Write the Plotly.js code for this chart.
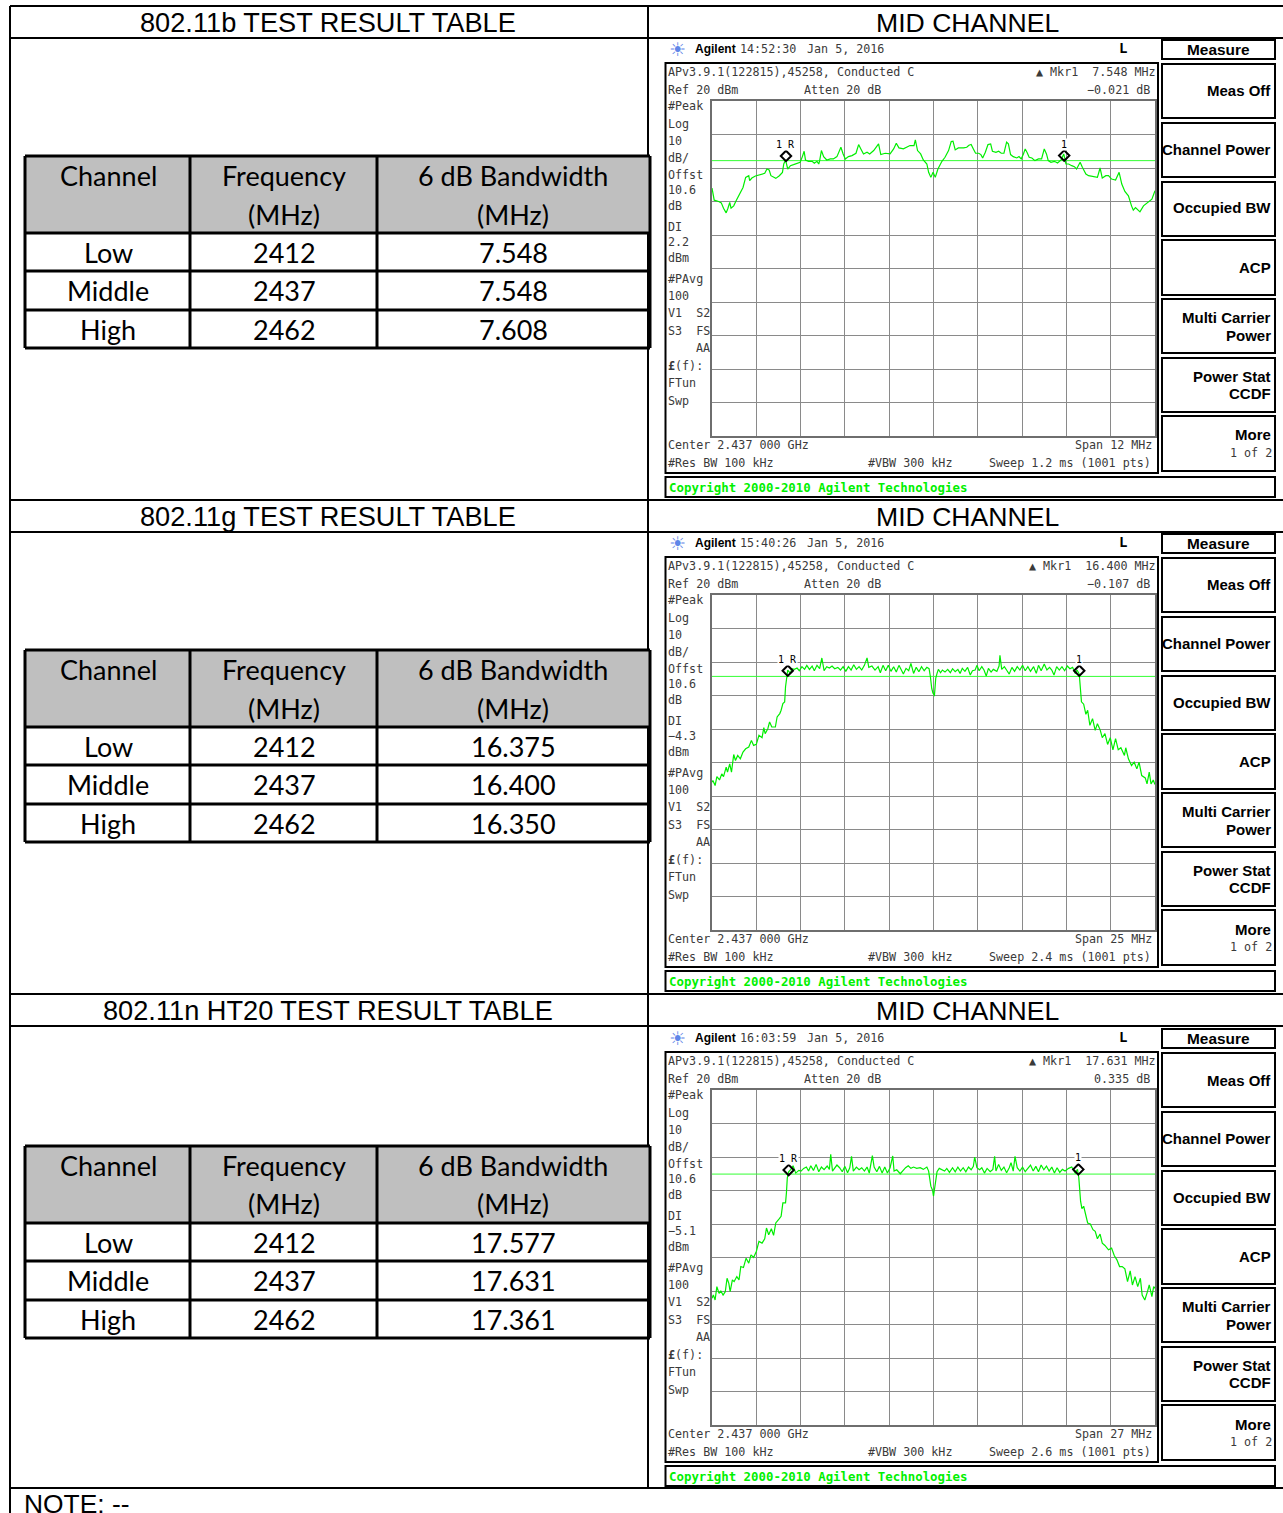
<!DOCTYPE html>
<html><head><meta charset="utf-8">
<script src="https://cdn.plot.ly/plotly-3.0.1.min.js"></script>
<style>html,body{margin:0;padding:0;background:#fff}</style></head>
<body><div id="chart" style="width:1283px;height:1513px"></div>
<script>
// ---- Table data ----
const tableChannels = ["Low","Middle","High"];
const tableFrequencies = ["2412","2437","2462"];
const headerCol1 = ["Channel"];
const headerCol2 = ["Frequency","(MHz)"];
const headerCol3 = ["6 dB Bandwidth","(MHz)"];
const bandwidthB = ["7.548","7.548","7.608"];
const bandwidthG = ["16.375","16.400","16.350"];
const bandwidthN = ["17.577","17.631","17.361"];
const sectionTitles = ["802.11b TEST RESULT TABLE","802.11g TEST RESULT TABLE","802.11n HT20 TEST RESULT TABLE"];

// ---- Trace data: sweep point (0-1000), level in dBm ----
const bPoints = [0,2,5,15,21,26,32,36,40,43,49,55,62,70,76,83,85,90,98,109,119,124,129,133,139,144,152,159,162,166,171,177,184,192,199,204,208,211,218,226,231,237,241,243,247,252,259,267,274,282,288,291,296,301,308,316,325,331,336,342,350,356,365,376,381,391,402,410,416,422,432,440,447,456,459,464,471,477,485,489,494,499,504,510,519,526,534,540,544,549,556,568,575,580,585,590,595,602,607,611,617,623,629,633,641,647,653,659,665,669,674,680,688,693,698,703,707,711,716,722,729,737,744,750,755,759,765,773,780,788,794,799,805,812,818,823,831,836,844,850,859,870,876,881,889,895,902,911,919,925,932,940,947,951,956,966,974,985,993,1000];
const bLevels = [-6,-7.3,-9.6,-10,-10.4,-12,-13.4,-12,-10.3,-12,-11.3,-9.6,-7.6,-5.8,-2.8,-2.3,-3.8,-3,-2.4,-2,-1.6,-0.3,-0.6,-2.3,-2.8,-3.1,-2.3,-1.3,1.2,2.4,-0.3,0.7,1,1.4,1.7,3.4,5,2.4,2,2,1.4,2,1.2,2.2,5.2,3.4,2.4,2.7,2.7,3.4,5.2,6.2,4.2,2.7,3.4,3.7,4.4,7,5.7,4.2,4.7,4.2,5.2,7.2,4,4.4,4.2,5.7,7.4,6,5.7,6.2,6.7,6.7,8.4,5.2,4.2,2.4,1.2,-1.3,-2.8,-1.3,-2.8,-0.3,2,3.2,5.2,7.9,8,5.4,6,6,6.2,6.8,7,5.7,4.4,4.4,4,3,4.7,7,7.2,5,4.7,5,4.4,4.4,7.7,7.2,4,3.4,3,3.4,2.7,4.2,5.7,4.7,3.2,3,2.2,2.7,2.7,5.7,4.2,2.2,1.7,2,1.5,2.4,4.2,1.2,1.2,0.7,0.4,-0.3,1.7,0.2,-1.8,-2.3,-2.6,-2.8,0,-3,-2.3,-2.3,-3.3,-3.6,-1.3,-4.8,-7,-8.3,-11.3,-12.6,-11.8,-13.1,-11.3,-10,-9.3,-6.8];
const gPoints = [0,2,7,11,17,22,26,32,35,40,44,49,53,58,64,70,76,83,89,94,100,106,113,117,120,126,130,135,143,147,153,156,160,164,166,169,171,177,180,186,192,197,203,209,214,220,226,231,237,243,248,253,259,265,271,277,284,290,296,302,308,314,320,326,332,338,344,350,354,361,368,375,380,386,392,398,404,410,416,422,428,432,438,444,449,455,461,467,473,479,485,490,493,496,499,500,502,505,508,511,516,520,526,532,538,543,549,555,560,565,571,577,583,588,594,598,603,609,614,619,624,630,635,643,648,650,654,660,666,671,677,683,689,695,701,707,713,719,726,732,737,743,750,756,762,767,772,778,784,790,796,802,808,814,820,824,829,832,834,839,844,848,853,859,865,870,876,881,887,893,899,905,911,917,923,931,934,940,947,953,959,964,970,978,982,987,991,996,1000];
const gLevels = [-35.9,-35.4,-36.9,-34.2,-35.2,-33.4,-34.2,-31.4,-32.9,-30.4,-32.9,-27.6,-29.4,-27.9,-28.9,-26.9,-25.9,-25.4,-23.4,-24.9,-24.6,-21.9,-22.6,-19.6,-21.4,-19.9,-17.9,-19.4,-19.4,-16.4,-15.4,-14.4,-12.4,-11.9,-7.4,-3.9,-2.4,-3.4,-2,-2.2,-1.8,-2.6,-1.4,-2.2,-1,-2.2,-1.2,-2.6,-1,-2,1.2,-2.6,-1.4,-1.8,-1.2,-2,-1.6,-2.4,-1.4,-2.8,-1.4,-2.4,-0.8,-2.2,-1.4,-2.4,-1,1.2,-1.6,-1.2,-2.4,-1.4,-3.2,-1,-2.6,-1,-2.8,-1.4,-3,-1,-2.4,-3.6,-1.9,-2.6,-0.4,-3.4,-1.6,-2.9,-1.4,-2.6,-1.6,-2,-4.4,-7.9,-9.4,-9.2,-10.2,-4.9,-3.4,-2.2,-3.2,-2.4,-3,-2.2,-3.2,-2,-2.9,-2.2,-3.4,-1.9,-2.8,-1.6,-3.9,-2.6,-2.4,-1,-2.6,-1.4,-2.4,-4.2,-1.9,-3,-2.2,-2.8,-1.2,2,-2.2,-1.4,-2.6,-3.6,-1.6,-2.8,-1.4,-2.4,-1,-2.6,-1.4,-2.8,-1.4,-3.4,-1,-2.6,-0.6,-2.4,-1.6,-2.4,-3.9,-1.4,-2.4,-1.4,-2.6,-1.2,-2,-1.6,-3.4,-2.4,-3.6,-8.4,-11.9,-12.6,-15.6,-14.4,-18.9,-16.9,-20.4,-18.4,-20.2,-22.6,-21.4,-24.6,-22.6,-26.2,-22.9,-26.2,-25.6,-27.9,-25.6,-28.9,-30.9,-29.9,-31.9,-29.9,-33.9,-34.6,-36.4,-32.9,-36.4,-35.2,-36.6];
const nPoints = [0,3,7,11,16,20,25,30,34,38,41,46,50,56,61,65,71,77,83,88,94,100,106,113,119,123,128,134,139,144,152,156,160,166,168,170,173,178,183,189,196,201,207,213,218,223,229,235,241,247,253,260,265,268,272,278,282,288,294,300,306,311,315,319,326,332,338,344,350,355,359,362,366,372,378,384,390,396,402,408,411,417,425,431,437,443,449,455,462,470,477,485,489,494,498,500,502,505,508,513,519,525,530,536,543,549,555,561,567,573,579,585,590,593,598,604,609,615,621,628,634,638,641,647,653,659,665,671,675,680,684,689,695,701,707,713,719,725,731,737,743,749,755,761,767,773,779,785,791,797,805,812,820,825,828,832,835,839,844,848,854,860,865,870,876,881,887,895,902,908,914,920,926,932,938,944,949,955,961,967,971,977,983,987,993,997,1000];
const nLevels = [-42.2,-41.2,-42.7,-38.7,-40.7,-40,-41.2,-40.2,-36.2,-37.7,-40.2,-36.7,-37.2,-35.7,-36.7,-32.7,-33,-30.2,-31.7,-29.2,-30,-28.2,-25.2,-25.7,-24.4,-21.2,-23.2,-21.4,-23.4,-19.7,-18.4,-17.7,-13.7,-13.7,-10.7,-6.2,-4.4,-3.7,-2.6,-4.8,-4,-4.2,-3.4,-3,-4.2,-2.6,-4,-2.2,-4.4,-3,-3.8,-2.7,-3.7,0.8,-4.2,-3,-2.4,-3.2,-4.4,-2.8,-4.7,-3.2,0.2,-4.2,-3,-3.8,-3.2,-4.2,-3,-4.8,-2.2,0.4,-3,-4.4,-2.8,-4.8,-3,-4.8,-3.2,0.3,-4.2,-3.8,-5,-4,-3.2,-2.6,-3.4,-3,-3.4,-3.2,-3.7,-3,-4.2,-8.7,-10,-11.7,-10,-6.2,-4.4,-3.4,-3.7,-4.2,-3.4,-4.6,-3.2,-4.4,-3,-4.2,-3.2,-4.4,-3,-3.8,-2.8,0,-3.2,-3.8,-3.2,-4.8,-3.4,-4.4,-3.7,0.2,-4.2,-2.2,-4,-3,-4.7,-3.2,-1.7,-4.2,0.2,-3.2,-4.2,-3,-4.4,-3.2,-2.4,-4.2,-2.8,-4.4,-2.4,-3.8,-2.7,-4.2,-3,-4.8,-3.2,-4.6,-3.7,-4.2,-3.4,-3,-4.8,-3.7,-6.2,-13.2,-15.4,-14.7,-17.7,-19.7,-20,-21.7,-22.2,-24.4,-23,-25.7,-26.4,-27.7,-27.2,-29.4,-30.7,-32.7,-32.7,-33.4,-37.2,-34,-38.2,-35.7,-38.7,-36.2,-41.2,-42.7,-40.2,-38.2,-41.7,-38.7,-39.2];

// ---- Marker and display-line values ----
const markerPointsB = [167,795], markerLevelsB = [3.6,3.7];
const markerPointsG = [171,829], markerLevelsG = [-2.6,-2.6];
const markerPointsN = [173,827], markerLevelsN = [-3.9,-3.7];
const markerLabels = ["1 R","1"];
const displayLines = [2.2,-4.3,-5.1];

// ---- Instrument readouts ----
const clockTimes = ["14:52:30","15:40:26","16:03:59"];
const markerDeltaF = ["7.548 MHz","16.400 MHz","17.631 MHz"];
const markerDeltaA = ["\u22120.021 dB","\u22120.107 dB","0.335 dB"];
const spans = ["Span 12 MHz","Span 25 MHz","Span 27 MHz"];
const sweeps = ["Sweep 1.2 ms (1001 pts)","Sweep 2.4 ms (1001 pts)","Sweep 2.6 ms (1001 pts)"];
const displayLineText = ["2.2","\u22124.3","\u22125.1"];
const leftColumn = ["#Peak","Log","10","dB/","Offst","10.6","dB","DI",null,"dBm","#PAvg","100","V1  S2","S3  FS",null,"<b>\u00a3</b>(f):","FTun","Swp"];
const softKeys = [["Meas Off"],["Channel Power"],["Occupied BW"],["ACP"],["Multi Carrier","Power"],["Power Stat","CCDF"],["More"]];

// ---- Page geometry ----
const W = 1283, H = 1513;
const px = x => x / W, py = y => 1 - y / H;
const panelOffsets = [0,494,989];
const tableOffsets = [0,494,990];
const ARIAL = "Liberation Sans, Arial, sans-serif";
const LATO = "Lato, sans-serif";
const MONO = "DejaVu Sans Mono, monospace";
const SCREEN_INK = "#3a3a3a";

const shapes = [], annotations = [];
function line(x0,y0,x1,y1,w,c){shapes.push({type:"line",xref:"paper",yref:"paper",x0:px(x0),y0:py(y0),x1:px(x1),y1:py(y1),line:{color:c||"#000",width:w||2},layer:"below"});}
function rect(x0,y0,x1,y1,w,fill){shapes.push({type:"rect",xref:"paper",yref:"paper",x0:px(x0),y0:py(y0),x1:px(x1),y1:py(y1),line:{color:"#000",width:w},fillcolor:fill||"rgba(0,0,0,0)",layer:"below"});}
function text(t,x,y,size,family,anchor,color,bold){
  const nudge = anchor==="right" ? 1 : (anchor==="center" ? 0 : -1);
  annotations.push({xref:"paper",yref:"paper",x:px(x+nudge),y:py(y),text:bold?"<b>"+t+"</b>":t,showarrow:false,xanchor:anchor||"left",yanchor:"middle",align:anchor||"left",borderpad:0,
    font:{size:size,family:family,color:color||"#000"}});
}

// Outer report grid
line(10,6,1283,6,2);
[38,500,532,994,1026,1488].forEach(y=>line(10,y,1283,y,2));
line(10,6,10,1513,2);
line(648,6,648,1488,2);
[22.5,516.5,1010.5].forEach((y,i)=>{
  text(sectionTitles[i],328,y,27.2,ARIAL,"center");
  text("MID CHANNEL",967,y,26.6,ARIAL,"center");
});
text("NOTE: --",24,1504,26.4,ARIAL,"left");

// Result tables
const bandwidths = [bandwidthB,bandwidthG,bandwidthN];
const tableTextShift = [-0.5,-0.5,-1];
tableOffsets.forEach((o,k)=>{
  const cols=[25,190,377,650], rows=[156,233,271,310,348].map(v=>v+o);
  rect(cols[0],rows[0],cols[3],rows[1],0,"#BFBFBF");
  rows.forEach(r=>line(cols[0],r,cols[3],r,3));
  cols.forEach(c=>line(c,rows[0],c,rows[4],3));
  const cx=[108,284,513], f=27, t0=o+tableTextShift[k];
  text(headerCol1[0],cx[0],176+t0,f,LATO,"center");
  headerCol2.forEach((t,i)=>text(t,cx[1],176+38.5*i+t0,f,LATO,"center"));
  headerCol3.forEach((t,i)=>text(t,cx[2],176+38.5*i+t0,f,LATO,"center"));
  [253,291.5,330].forEach((y,i)=>{
    text(tableChannels[i],cx[0],y+t0,f,LATO,"center");
    text(tableFrequencies[i],cx[1],y+t0,f,LATO,"center");
    text(bandwidths[k][i],cx[2],y+t0,f,LATO,"center");
  });
});

// Instrument screens
const leftYs=[106,124,141,158,175,190,206,227,242,258,279,296,313,331,348,366,383,401];
panelOffsets.forEach((o,k)=>{
  const fs=11.7;
  text("\u2600",677,49+o,19,"DejaVu Sans","center","#5f86e8");
  text("Agilent",695,49+o,12,ARIAL,"left","#000",true);
  text(clockTimes[k],740,49+o,fs,MONO,"left",SCREEN_INK);
  text("Jan 5, 2016",807,49+o,fs,MONO,"left",SCREEN_INK);
  text("L",1123,48+o,14,MONO,"center","#000",true);
  rect(665.5,63+o,1158,473+o,2);
  rect(665.5,477+o,1275,497+o,2);
  rect(1162,40+o,1275,59+o,2);
  text("Measure",1218,49+o,15.4,ARIAL,"center","#000",true);
  [[64,118],[123,177],[182,236],[240,295],[299,353],[358,412],[416,471]].forEach(b=>rect(1162,b[0]+o,1275,b[1]+o,2));
  [[91],[149],[208],[267],[317,335],[376,393],[435]].forEach((ys,i)=>{
    ys.forEach((y,j)=>text(softKeys[i][j],1271,y+o,15,ARIAL,"right","#000",true));
  });
  text("1 of 2",1272,453+o,fs,MONO,"right",SCREEN_INK);
  text("APv3.9.1(122815),45258, Conducted C",668,72+o,fs,MONO,"left",SCREEN_INK);
  text("Ref 20 dBm",668,90+o,fs,MONO,"left",SCREEN_INK);
  text("Atten 20 dB",804,90+o,fs,MONO,"left",SCREEN_INK);
  text("\u25B2 Mkr1  "+markerDeltaF[k],1156,72+o,fs,MONO,"right",SCREEN_INK);
  text(markerDeltaA[k],1150,90+o,fs,MONO,"right",SCREEN_INK);
  leftColumn.forEach((t,i)=>{
    if(i===8) text(displayLineText[k],668,leftYs[i]+o,fs,MONO,"left",SCREEN_INK);
    else if(i===14) text("AA",710,leftYs[i]+o,fs,MONO,"right",SCREEN_INK);
    else text(t,668,leftYs[i]+o,fs,MONO,"left",SCREEN_INK);
  });
  text("Center 2.437 000 GHz",668,445+o,fs,MONO,"left",SCREEN_INK);
  text(spans[k],1152,445+o,fs,MONO,"right",SCREEN_INK);
  text("#Res BW 100 kHz",668,463+o,fs,MONO,"left",SCREEN_INK);
  text("#VBW 300 kHz",868,463+o,fs,MONO,"left",SCREEN_INK);
  text(sweeps[k],1151,463+o,fs,MONO,"right",SCREEN_INK);
  text("Copyright 2000-2010 Agilent Technologies",669,487+o,12.4,MONO,"left","#00f000",true);
});

// Spectrum plots
const series=[[bPoints,bLevels,markerPointsB,markerLevelsB],[gPoints,gLevels,markerPointsG,markerLevelsG],[nPoints,nLevels,markerPointsN,markerLevelsN]];
const traces=[]; const layout={width:W,height:H,margin:{l:0,r:0,t:0,b:0},paper_bgcolor:"#fff",plot_bgcolor:"#fff",showlegend:false,shapes,annotations};
series.forEach((s,k)=>{
  const sfx=k===0?"":String(k+1), xa="x"+sfx, ya="y"+sfx, o=panelOffsets[k];
  const axisBase={showline:true,mirror:true,linecolor:"#6e6e6e",linewidth:2,showgrid:true,gridcolor:"#8a8a8a",gridwidth:1,zeroline:false,showticklabels:false,ticks:"",fixedrange:true};
  layout["xaxis"+sfx]=Object.assign({},axisBase,{anchor:ya,domain:[px(712),px(1155)],range:[0,1000],dtick:100,tick0:0});
  layout["yaxis"+sfx]=Object.assign({},axisBase,{anchor:xa,domain:[py(436+o),py(101+o)],range:[-80,20],dtick:10,tick0:20});
  traces.push({type:"scatter",mode:"lines",x:[0,1000],y:[displayLines[k],displayLines[k]],xaxis:xa,yaxis:ya,line:{color:"#33ff33",width:1},hoverinfo:"skip"});
  traces.push({type:"scatter",mode:"lines",x:s[0],y:s[1],xaxis:xa,yaxis:ya,line:{color:"#00ee00",width:1.2},hoverinfo:"skip"});
  traces.push({type:"scatter",mode:"markers",x:s[2],y:s[3],xaxis:xa,yaxis:ya,marker:{symbol:"diamond-open",size:8,color:"#000",line:{width:2,color:"#000"}},hoverinfo:"skip"});
  s[2].forEach((p,i)=>annotations.push({xref:xa,yref:ya,x:p,y:s[3][i],text:markerLabels[i],showarrow:false,yanchor:"bottom",yshift:5,bgcolor:"#fff",borderpad:0,font:{size:10,family:MONO,color:"#000"}}));
});
Plotly.newPlot("chart",traces,layout,{staticPlot:true,displayModeBar:false});
</script></body></html>
